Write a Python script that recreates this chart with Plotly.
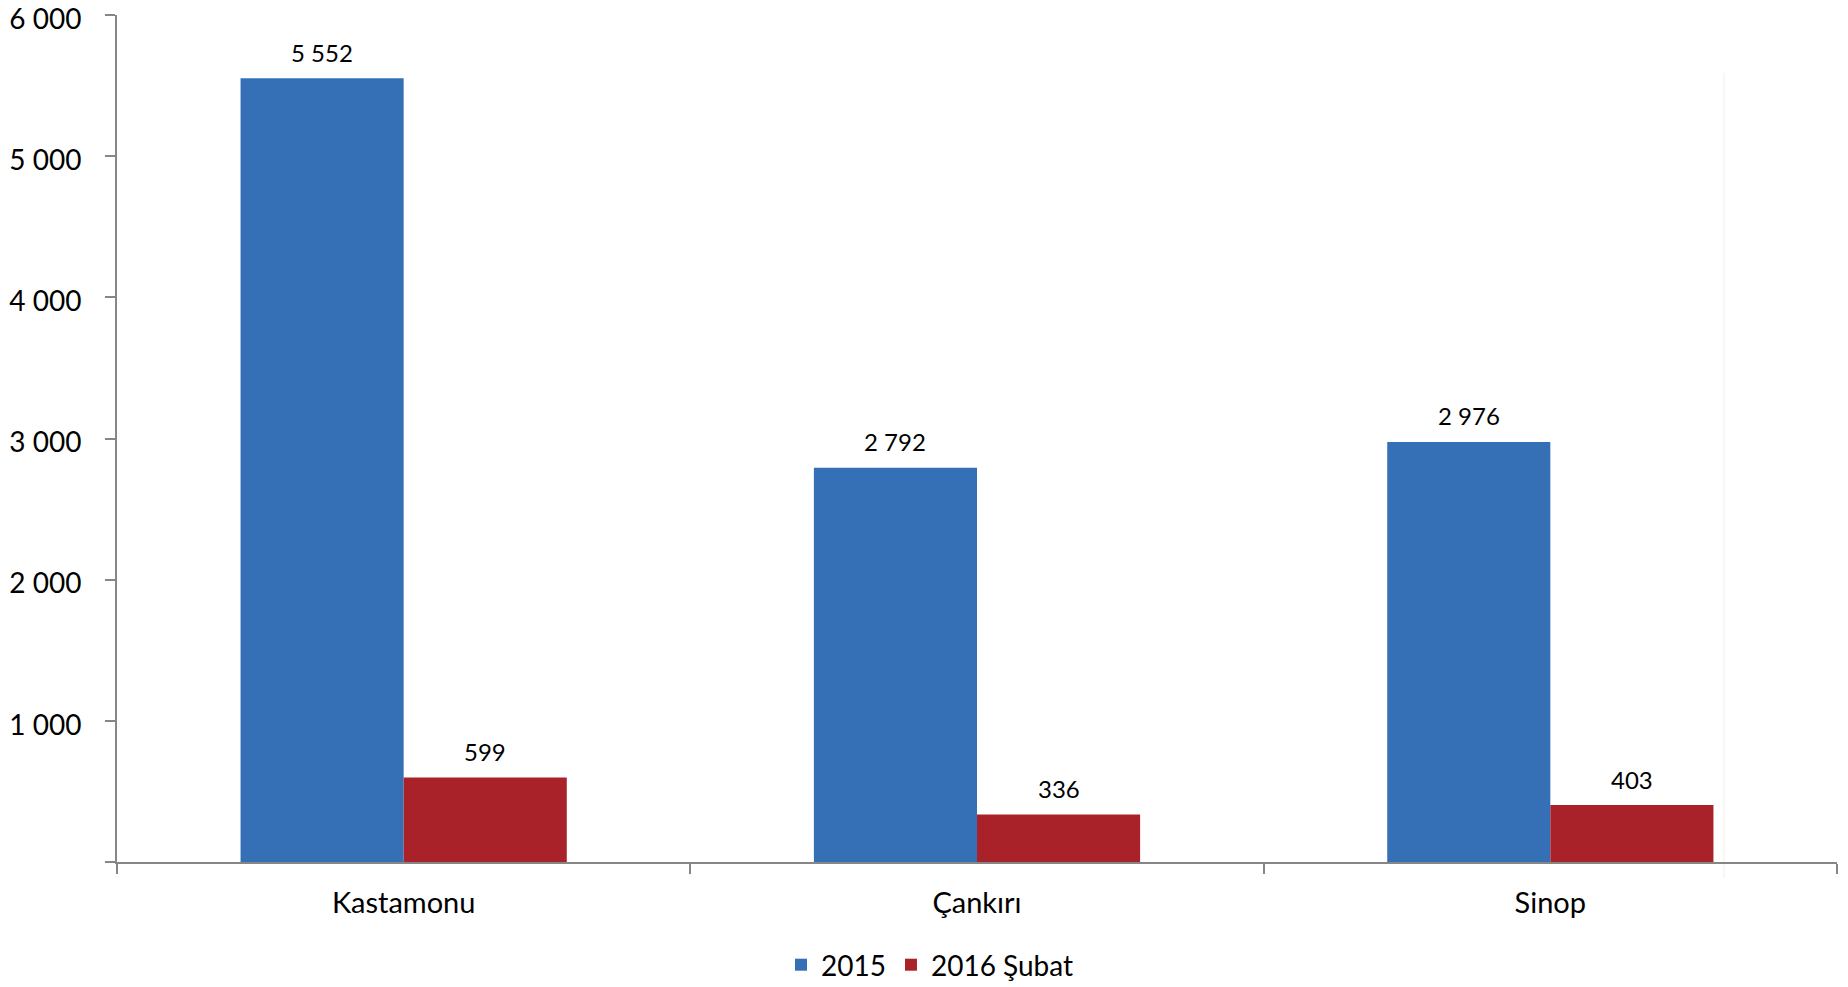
import plotly.graph_objects as go

categories = ["Kastamonu", "Çankırı", "Sinop"]
series_names = ["2015", "2016 Şubat"]
values_2015 = [5552, 2792, 2976]
values_2016 = [599, 336, 403]
value_labels_2015 = ["5 552", "2 792", "2 976"]
value_labels_2016 = ["599", "336", "403"]
y_tickvals = [0, 1000, 2000, 3000, 4000, 5000, 6000]
y_ticktext = ["", "1 000", "2 000", "3 000", "4 000", "5 000", "6 000"]

FONT = "Lato, Carlito, Calibri, sans-serif"
W, H = 1848, 987
# plot area in page pixels: x 117..1837, y 15..862
PX0, PX1, PY0, PY1 = 117, 1837, 15, 862
L, T = PX0, PY0
R = W - PX1
B = H - PY1
plot_w = PX1 - PX0
plot_h = PY1 - PY0
bargap = 0.431
bar_px = plot_w / len(categories) * (1 - bargap) / 2

fig = go.Figure()
fig.add_trace(go.Bar(
    name=series_names[0], x=categories, y=values_2015,
    marker=dict(color="#3570B7", line=dict(width=0)),
))
fig.add_trace(go.Bar(
    name=series_names[1], x=categories, y=values_2016,
    marker=dict(color="#A9222A", line=dict(width=0)),
))

annotations = []
for cat, v, lab in zip(categories, values_2015, value_labels_2015):
    annotations.append(dict(x=cat, y=v, text=lab, showarrow=False, xref="x", yref="y",
                            xshift=-bar_px / 2, yanchor="middle", yshift=26,
                            font=dict(family=FONT, size=24, color="#000000")))
for cat, v, lab in zip(categories, values_2016, value_labels_2016):
    annotations.append(dict(x=cat, y=v, text=lab, showarrow=False, xref="x", yref="y",
                            xshift=bar_px / 2, yanchor="middle", yshift=26,
                            font=dict(family=FONT, size=24, color="#000000")))

fig.update_layout(
    width=W, height=H,
    margin=dict(l=L, r=R, t=T, b=B, pad=0, autoexpand=False),
    paper_bgcolor="white", plot_bgcolor="white",
    barmode="group", bargap=bargap, bargroupgap=0,
    font=dict(family=FONT, color="#000000"),
    showlegend=True,
    legend=dict(orientation="h", x=(930 - PX0) / plot_w, xanchor="center",
                y=-(965 - PY1) / plot_h, yanchor="middle",
                font=dict(family=FONT, size=28, color="#000000"),
                itemwidth=30, traceorder="normal"),
    annotations=annotations,
    shapes=[dict(type="line", xref="paper", yref="paper",
                 x0=(1724 - PX0) / plot_w, x1=(1724 - PX0) / plot_w,
                 y0=(PY1 - 73) / plot_h, y1=-(878 - PY1) / plot_h,
                 line=dict(color="#efefef", width=1), layer="below")],
)
fig.update_xaxes(
    automargin=False,
    showline=True, linecolor="#868686", linewidth=2,
    ticks="outside", ticklen=10, tickwidth=2, tickcolor="#868686",
    tickson="boundaries", showgrid=False, zeroline=False,
    tickfont=dict(family=FONT, size=29, color="#000000"),
    ticklabelstandoff=14,
)
fig.update_yaxes(
    automargin=False, ticklabeloverflow="allow",
    range=[0, 6000], tickvals=y_tickvals, ticktext=y_ticktext,
    showline=True, linecolor="#868686", linewidth=2,
    ticks="outside", ticklen=10, tickwidth=2, tickcolor="#868686",
    showgrid=False, zeroline=False,
    tickfont=dict(family=FONT, size=28, color="#000000"),
    ticklabelstandoff=18, ticklabelshift=4,
)

fig.write_html(
    "out.html",
    config={"displayModeBar": False},
    post_script="document.body.style.margin='0';document.body.style.overflow='hidden';",
)
